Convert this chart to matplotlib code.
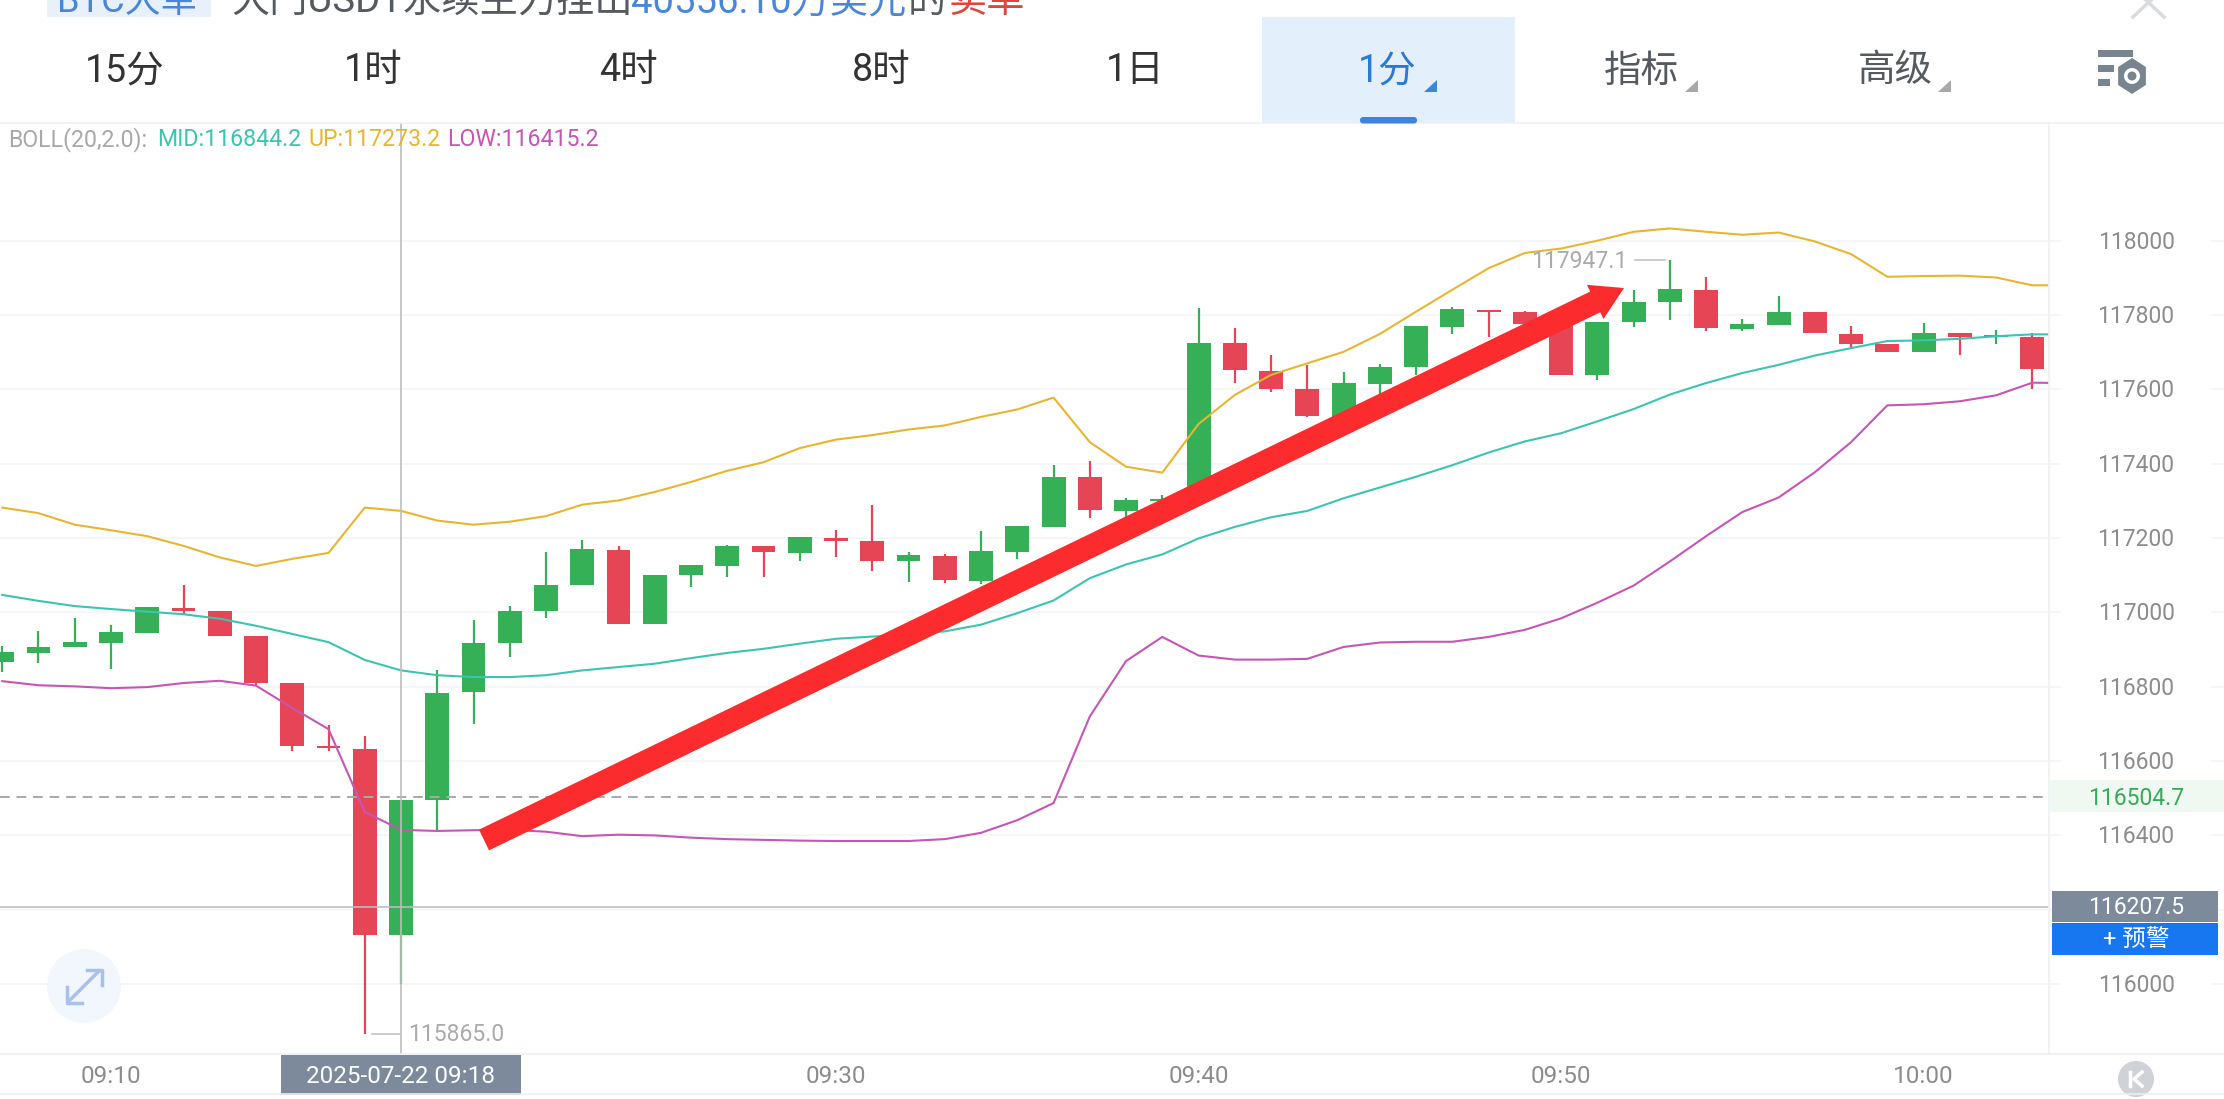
import numpy as np
import matplotlib
matplotlib.use("Agg")
import matplotlib.pyplot as plt
from matplotlib.patches import Rectangle, Polygon, Circle, FancyArrow, FancyBboxPatch

plt.rcParams['font.family'] = ['Roboto', 'Noto Sans CJK SC', 'DejaVu Sans']

# 1 minute candles, first one is 09:07
first_minute = -3  # minutes relative to 09:10
opens = [116866, 116892, 116906, 116919, 116945, 117013, 117005, 116937, 116810, 116641,
         116633, 116132, 116494, 116785, 116917, 117004, 117074, 117169, 116969, 117100,
         117126, 117179, 117161, 117200, 117192, 117138, 117153, 117084, 117162, 117230,
         117364, 117274, 117300, 117303, 117724, 117650, 117600, 117527, 117615, 117659,
         117769, 117813, 117808, 117776, 117638, 117780, 117834, 117868, 117763, 117773,
         117807, 117750, 117722, 117700, 117752, 117741, 117741]
closes = [116894, 116908, 116921, 116947, 117014, 117005, 116937, 116810, 116641, 116635,
          116133, 116496, 116784, 116918, 117005, 117075, 117170, 116970, 117101, 117127,
          117179, 117162, 117202, 117193, 117139, 117154, 117086, 117164, 117232, 117365,
          117276, 117303, 117305, 117726, 117651, 117601, 117529, 117616, 117661, 117770,
          117815, 117807, 117777, 117639, 117782, 117836, 117870, 117764, 117776, 117808,
          117751, 117723, 117701, 117752, 117740, 117743, 117656]
highs = [116909, 116949, 116986, 116967, 117014, 117075, 117005, 116937, 116810, 116698,
         116668, 116496, 116845, 116980, 117018, 117163, 117196, 117178, 117101, 117127,
         117182, 117179, 117202, 117221, 117288, 117163, 117157, 117220, 117232, 117396,
         117408, 117309, 117317, 117818, 117764, 117693, 117665, 117646, 117667, 117770,
         117821, 117813, 117810, 117776, 117782, 117868, 117947, 117901, 117789, 117851,
         117807, 117771, 117722, 117778, 117752, 117760, 117753]
lows = [116839, 116863, 116906, 116847, 116945, 116997, 116937, 116803, 116626, 116628,
        115865, 116000, 116412, 116699, 116880, 116985, 117074, 116970, 116968, 117068,
        117094, 117094, 117137, 117149, 117112, 117082, 117079, 117076, 117145, 117230,
        117254, 117250, 117280, 117303, 117616, 117594, 117525, 117527, 117585, 117640,
        117750, 117742, 117770, 117639, 117625, 117769, 117786, 117757, 117756, 117773,
        117751, 117711, 117701, 117700, 117693, 117721, 117601]

# bollinger bands, one more point than candles (runs off the right edge)
boll_up = [117282, 117267, 117236, 117221, 117205, 117179, 117148, 117125, 117144, 117160,
           117282, 117273, 117247, 117236, 117244, 117259, 117290, 117301, 117324, 117351,
           117381, 117404, 117442, 117465, 117477, 117492, 117503, 117526, 117546, 117578,
           117458, 117392, 117376, 117507, 117585, 117639, 117670, 117701, 117749, 117809,
           117868, 117926, 117967, 117979, 118000, 118024, 118033, 118024, 118016, 118022,
           117998, 117964, 117903, 117905, 117906, 117901, 117880, 117880]
boll_mid = [117047, 117031, 117017, 117009, 117002, 116995, 116983, 116964, 116942, 116920,
            116872, 116844, 116831, 116826, 116826, 116831, 116844, 116853, 116862, 116877,
            116891, 116902, 116916, 116929, 116935, 116940, 116949, 116967, 116998, 117032,
            117092, 117129, 117156, 117199, 117230, 117256, 117273, 117307, 117336, 117365,
            117396, 117430, 117460, 117482, 117514, 117547, 117586, 117617, 117644, 117666,
            117691, 117711, 117730, 117732, 117736, 117743, 117748, 117748]
boll_low = [116815, 116804, 116801, 116796, 116799, 116810, 116816, 116803, 116743, 116686,
            116463, 116415, 116412, 116414, 116415, 116410, 116398, 116402, 116400, 116394,
            116390, 116388, 116386, 116385, 116385, 116385, 116390, 116407, 116441,
            116487, 116720, 116869, 116934, 116884, 116873, 116873, 116875, 116907, 116919,
            116921, 116921, 116934, 116953, 116984, 117026, 117072, 117137, 117205, 117270,
            117309, 117377, 117458, 117557, 117560, 117568, 117584, 117618, 117617]

price_ticks = [116000, 116400, 116600, 116800, 117000, 117200, 117400, 117600, 117800, 118000]
grid_prices = [116000, 116200, 116400, 116600, 116800, 117000, 117200, 117400, 117600, 117800, 118000]
time_ticks = [0, 20, 30, 40, 50]
time_labels = ["09:10", "09:30", "09:40", "09:50", "10:00"]
crosshair_minute = 8
crosshair_price = 116207.5
last_price = 116504.7
tab_labels = ["15分", "1时", "4时", "8时", "1日", "1分", "指标", "高级"]

GREEN = "#35b057"
RED = "#e64555"
LINE = "#eef0f3"
GREY = "#8c8c8c"

W, H = 2224, 1099
fig = plt.figure(figsize=(W / 100, H / 100), dpi=100, facecolor="white")

# chart area in pixels: x 0-2049, y 123-1054
ax = fig.add_axes([0, 1 - 1054 / H, 2049 / W, (1054 - 123) / H])
ax.set_xlim(-3.062, 53.46)
ax.set_ylim(118000 - (1054 - 240.7) / 0.3717, 118000 - (123 - 240.7) / 0.3717)
ax.axis("off")

for p in grid_prices:
    ax.axhline(p, color="#f2f4f6", lw=1.1, zorder=1)

minutes = np.arange(len(opens)) + first_minute
for m, o, c, h, l in zip(minutes, opens, closes, highs, lows):
    col = GREEN if c >= o else RED
    ax.vlines(m, l, h, color=col, lw=1.6, zorder=2)
    ax.bar(m, max(abs(c - o), 4), bottom=min(o, c), width=0.66, color=col, zorder=3)

band_x = np.arange(len(boll_up)) + first_minute
ax.plot(band_x, boll_up, color="#e8b530", lw=1.5, zorder=4)
ax.plot(band_x, boll_mid, color="#3cc4b0", lw=1.5, zorder=4)
ax.plot(band_x, boll_low, color="#c755b5", lw=1.5, zorder=4)

ax.axhline(last_price, color="#a9a9a9", lw=1.4, ls=(0, (5, 3.5)), zorder=5)
ax.axhline(crosshair_price, color="#bdbdbd", lw=1.2, zorder=5)
ax.axvline(crosshair_minute, color="#bdbdbd", lw=1.2, zorder=5)

# everything around the chart, in screen pixels
ui = fig.add_axes([0, 0, 1, 1], facecolor="none")
ui.set_xlim(0, W)
ui.set_ylim(H, 0)
ui.axis("off")


def px_y(price):
    return 240.7 + (118000 - price) * 0.3717


def px_x(minute):
    return 111 + 36.25 * minute


# arrow
ui.add_patch(FancyArrow(484, 840, 1140, -552, width=23, head_width=38, head_length=32,
                        length_includes_head=True, color="#fc2b2d", lw=0, zorder=6))

# frame lines
ui.plot([0, W], [123, 123], color=LINE, lw=1.2)
ui.plot([0, W], [1054, 1054], color=LINE, lw=1.2)
ui.plot([0, W], [1094, 1094], color=LINE, lw=1.2)
ui.plot([2049, 2049], [123, 1054], color=LINE, lw=1.2)
for p in grid_prices:
    ui.plot([2049, 2060], [px_y(p)] * 2, color="#f2f4f6", lw=1.1)
    ui.plot([2212, W], [px_y(p)] * 2, color="#f2f4f6", lw=1.1)

# headline, cut off by the top of the screenshot
ui.add_patch(Rectangle((47, 0), 164, 17, color="#e8f1fb", lw=0))
ui.text(57, 12, "BTC大单", fontsize=26, color="#4a86d8", va="baseline")
ui.text(231, 12, "大门USDT永续主力挂出", fontsize=27.5, color="#555a60", va="baseline")
ui.text(631, 12, "40556.10万美元", fontsize=27.5, color="#4a86d8", va="baseline")
ui.text(908, 12, "的", fontsize=27.5, color="#555a60", va="baseline")
ui.text(949, 12, "卖单", fontsize=27.5, color="#d8483c", va="baseline")
ui.plot([2133, 2164], [17, -12], color="#d8dce0", lw=2.5)
ui.plot([2164, 2133], [17, -12], color="#d8dce0", lw=2.5)

# tabs
ui.add_patch(Rectangle((1262, 17), 253, 106, color="#e3effb", lw=0))
ui.add_patch(FancyBboxPatch((1360, 117), 57, 6.5, boxstyle="round,pad=0,rounding_size=3",
                            color="#3f84dc", lw=0, zorder=3))
tab_x = [125, 373, 628, 881, 1135, 1387, 1641, 1895]
tab_col = ["#333333"] * 5 + ["#2a7ad2", "#555a60", "#555a60"]
for x, lab, col in zip(tab_x, tab_labels, tab_col):
    ui.text(x, 71, lab, fontsize=27, color=col, ha="center", va="center")
for x, col in [(1424, "#3d85d8"), (1685, "#a8a8a8"), (1938, "#a8a8a8")]:
    ui.add_patch(Polygon([(x, 92), (x + 13, 92), (x + 13, 80)], color=col, lw=0))

# settings icon
for y, x1 in [(53, 2133), (68, 2114), (82, 2110)]:
    ui.add_patch(Rectangle((2098, y - 3.5), x1 - 2098, 7, color="#78848f", lw=0))
hex_a = np.deg2rad(np.arange(6) * 60 + 90)
ui.add_patch(Polygon(np.c_[2132 + 16 * np.cos(hex_a), 76 + 18 * np.sin(hex_a)], color="#78848f", lw=0))
ui.add_patch(Circle((2132, 76), 8, color="white", lw=0))
ui.add_patch(Circle((2132, 76), 4.5, color="#78848f", lw=0))

# bollinger legend
ui.text(8, 139.5, "BOLL(20,2.0):", fontsize=16.7, color="#a8a8a8", va="center")
ui.text(157, 139.5, "MID:116844.2", fontsize=16.7, color="#3cc4b0", va="center")
ui.text(308, 139.5, "UP:117273.2", fontsize=16.7, color="#e8b530", va="center")
ui.text(447, 139.5, "LOW:116415.2", fontsize=16.7, color="#c755b5", va="center")

# price axis labels
for p in price_ticks:
    ui.text(2136, px_y(p) + 1.5, str(p), fontsize=16.5, color=GREY, ha="center", va="center")

ui.add_patch(Rectangle((2049, 780), 175, 32, color="#f0f8f2", lw=0, zorder=3))
ui.text(2136, px_y(last_price) + 1.5, "116504.7", fontsize=16.5, color="#3aa85a", ha="center", va="center", zorder=4)
ui.add_patch(Rectangle((2052, 891), 166, 31, color="#7d8a9c", lw=0, zorder=3))
ui.text(2136, 908, "116207.5", fontsize=16.5, color="white", ha="center", va="center", zorder=4)
ui.add_patch(Rectangle((2052, 923), 166, 32, color="#1677f0", lw=0, zorder=3))
ui.text(2136, 939, "+ 预警", fontsize=17, color="white", ha="center", va="center", zorder=4)

# time axis labels
for m, lab in zip(time_ticks, time_labels):
    ui.text(px_x(m), 1076.5, lab, fontsize=17.5, color=GREY, ha="center", va="center")
ui.add_patch(Rectangle((281, 1055), 240, 40, color="#7d8a9c", lw=0))
ui.text(401, 1076.5, "2025-07-22 09:18", fontsize=17.5, color="white", ha="center", va="center")

# high / low callouts
ui.plot([1635, 1665], [px_y(117947.1)] * 2, color="#c4c4c4", lw=1.2)
ui.text(1627, 262, "117947.1", fontsize=16.5, color="#aaaaaa", ha="right", va="center")
ui.plot([372, 400], [px_y(115865.0)] * 2, color="#c4c4c4", lw=1.2)
ui.text(408, 1034.5, "115865.0", fontsize=16.5, color="#aaaaaa", ha="left", va="center")

# zoom button
ui.add_patch(Circle((84, 986), 37, color="#f2f6fd", lw=0))
ui.plot([69, 99], [1001, 971], color="#a9c1e8", lw=2.5)
ui.plot([87, 102, 102], [970, 970, 985], color="#a9c1e8", lw=2.5)
ui.plot([67, 67, 82], [987, 1003, 1003], color="#a9c1e8", lw=2.5)

# jump to latest button
ui.add_patch(Circle((2136, 1079), 18, color="#cfd2d6", lw=0))
ui.plot([2130, 2130], [1072, 1086], color="white", lw=2.5)
ui.plot([2142, 2134, 2142], [1072, 1079, 1086], color="white", lw=2.5)

fig.savefig("out.png", dpi=100)
